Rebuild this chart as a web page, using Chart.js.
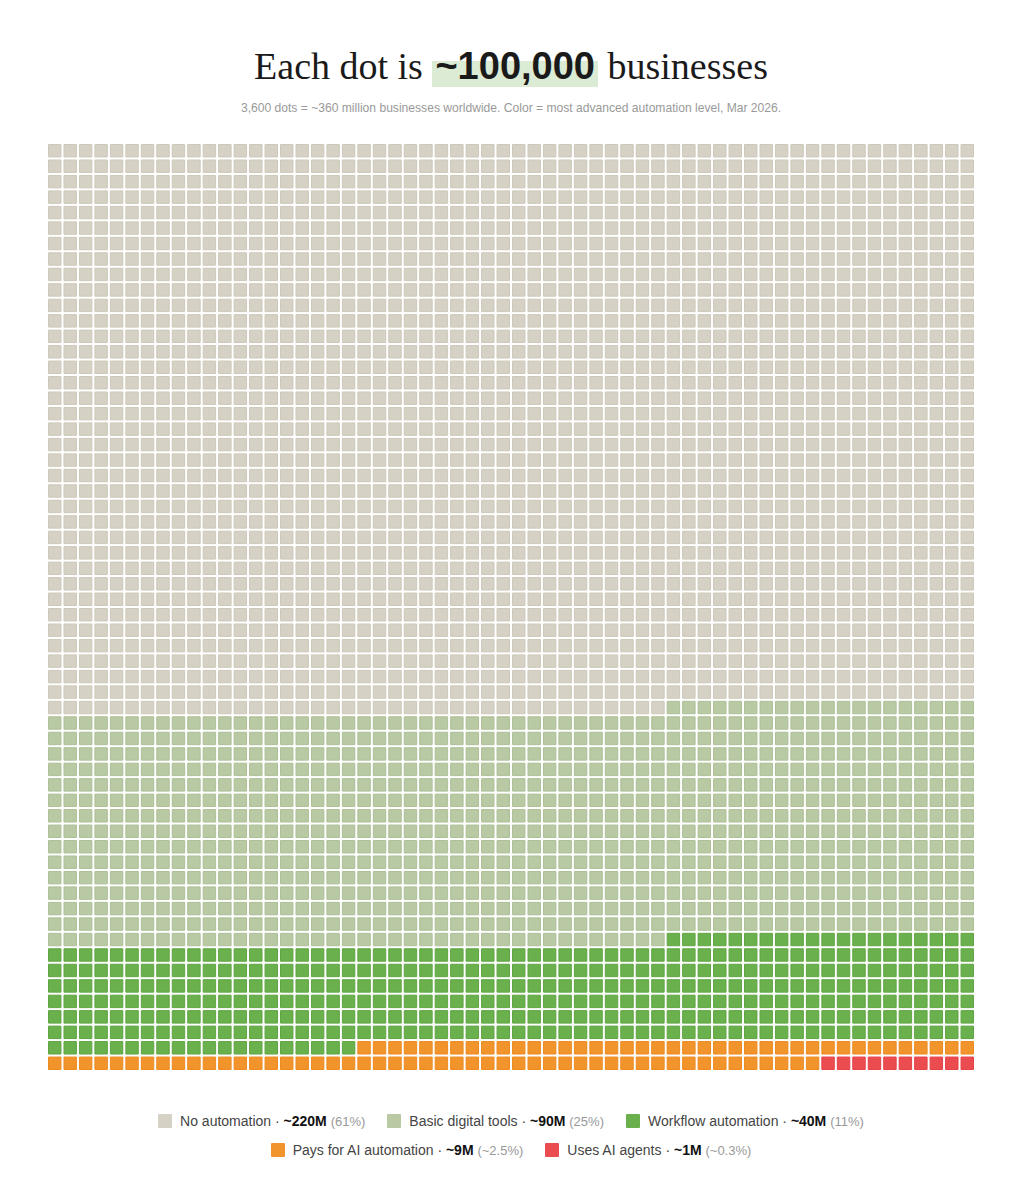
<!DOCTYPE html>
<html>
<head>
<meta charset="utf-8">
<script src="https://cdn.jsdelivr.net/npm/chart.js@4"></script>
<style>
  body { margin: 0; background: #fff; width: 1022px; height: 1200px; position: relative; font-family: "Liberation Sans", Arial, sans-serif; }
  #title { position: absolute; top: 44px; left: 0; width: 1022px; text-align: center; font-family: "Liberation Serif", serif; font-size: 38px; color: #1a1a1a; }
  #title b { font-family: "Liberation Sans", Arial, sans-serif; font-weight: bold; background: linear-gradient(transparent 38%, #dcebd3 38%); padding: 0 3px; }
  #subtitle { position: absolute; top: 101px; left: 0; width: 1022px; text-align: center; font-size: 12.1px; color: #999; }
  #wrap { position: absolute; left: 47px; top: 143px; width: 928px; height: 928px; }
  #legend { position: absolute; top: 1107px; left: 0; width: 1022px; text-align: center; font-size: 14px; color: #444; line-height: 28px; }
  .item { display: inline-block; margin: 0 11px; }
  .sw { display: inline-block; width: 14px; height: 14px; vertical-align: -2px; margin-right: 8px; border-radius: 1px; }
  .item b { color: #111; }
  .item span.p { color: #999; font-size: 13px; }
</style>
</head>
<body>
<div id="title">Each dot is <b>~100,000</b> businesses</div>
<div id="subtitle">3,600 dots = ~360 million businesses worldwide. Color = most advanced automation level, Mar 2026.</div>
<div id="wrap"><canvas id="waffle"></canvas></div>
<div id="legend"></div>
<script>
"use strict";

// カテゴリとドット数（1ドット = 約10万社）
const categories = ['No automation', 'Basic digital tools', 'Workflow automation', 'Pays for AI automation', 'Uses AI agents'];
const dotCounts = [2200, 900, 400, 90, 10];
const totals = ['~220M', '~90M', '~40M', '~9M', '~1M'];
const shares = ['61%', '25%', '11%', '~2.5%', '~0.3%'];
const colors = ['#d5d1c4', '#b8c9a3', '#6ab04c', '#f2942c', '#eb4c50'];
const borders = ['#cdc8ba', '#adc097', '#5fa642', '#ee8a1f', '#e64247'];
const cols = 60;
const rows = 60;

// 上の行から左→右に順番に埋める
const datasets = [];
let idx = 0;
categories.forEach((name, c) => {
    const pts = [];
    for (let k = 0; k < dotCounts[c]; k++) {
        pts.push({ x: idx % cols, y: Math.floor(idx / cols) });
        idx++;
    }
    datasets.push({
        label: name,
        data: pts,
        pointStyle: 'rect',
        pointRadius: 8.8,
        pointHoverRadius: 8.8,
        backgroundColor: colors[c],
        borderColor: borders[c],
        borderWidth: 1
    });
});

new Chart(document.getElementById('waffle'), {
    type: 'scatter',
    data: { datasets },
    options: {
        responsive: true,
        maintainAspectRatio: false,
        animation: false,
        layout: { padding: 0, autoPadding: false },
        plugins: { legend: { display: false }, tooltip: { enabled: false } },
        scales: {
            x: { type: 'linear', min: -0.5, max: cols - 0.5, display: false },
            y: { type: 'linear', min: -0.5, max: rows - 0.5, reverse: true, display: false }
        }
    }
});

// 凡例（2行）
const legend = document.getElementById('legend');
categories.forEach((name, c) => {
    if (c === 3) legend.appendChild(document.createElement('br'));
    const item = document.createElement('span');
    item.className = 'item';
    item.innerHTML = `<span class="sw" style="background:${colors[c]}"></span>${name} · <b>${totals[c]}</b> <span class="p">(${shares[c]})</span>`;
    legend.appendChild(item);
});
</script>
</body>
</html>
